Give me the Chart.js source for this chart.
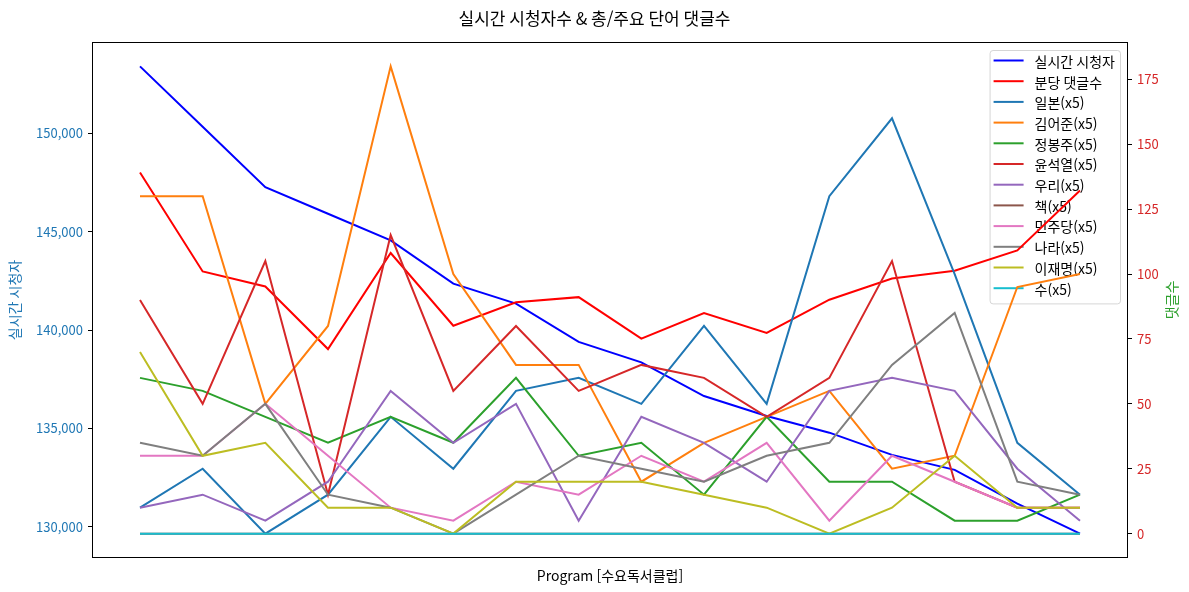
<!DOCTYPE html>
<html lang="ko">
<head>
<meta charset="utf-8">
<title>실시간 시청자수 & 총/주요 단어 댓글수</title>
<script src="https://cdn.jsdelivr.net/npm/chart.js@4.4.0/dist/chart.umd.min.js"></script>
<style>
  html, body { margin: 0; padding: 0; background: #fff; }
  canvas { display: block; }
</style>
</head>
<body>
<canvas id="viewerChart" width="1189" height="592"></canvas>
<script>
// program segments (x axis has no labels)
const segments = [0, 1, 2, 3, 4, 5, 6, 7, 8, 9, 10, 11, 12, 13, 14, 15];

// live viewers -> left axis
const liveViewers = [153400, 150330, 147260, 145910, 144560, 142360, 141350, 139400,
  138360, 136650, 135640, 134790, 133660, 132900, 131180, 129660];
// comments per minute -> right axis
const commentsPerMinute = [139.1, 101.0, 95.2, 71.1, 108.1, 80.1, 89.1, 91.1,
  75.1, 85.0, 77.3, 90.1, 98.3, 101.3, 109.1, 132.2];

// keyword counts (already x5)
const kwJapan = [10, 25, 0, 15, 45, 25, 55, 60, 50, 80, 50, 130, 160, 100, 35, 15];
const kwKimEojun = [130, 130, 50, 80, 180, 100, 65, 65, 20, 35, 45, 55, 25, 30, 95, 100];
const kwJeongBongju = [60, 55, 45, 35, 45, 35, 60, 30, 35, 15, 45, 20, 20, 5, 5, 15];
const kwYoon = [90, 50, 105, 15, 115, 55, 80, 55, 65, 60, 45, 60, 105, 20, 10, 10];
const kwWoori = [10, 15, 5, 20, 55, 35, 50, 5, 45, 35, 20, 55, 60, 55, 25, 5];
const kwBook = [0, 0, 0, 0, 0, 0, 0, 0, 0, 0, 0, 0, 0, 0, 0, 0];
const kwMinjoo = [30, 30, 50, 30, 10, 5, 20, 15, 30, 20, 35, 5, 30, 20, 10, 10];
const kwNara = [35, 30, 50, 15, 10, 0, 15, 30, 25, 20, 30, 35, 65, 85, 20, 15];
const kwLeeJaemyung = [70, 30, 35, 10, 10, 0, 20, 20, 20, 15, 10, 0, 10, 30, 10, 10];
const kwSu = [0, 0, 0, 0, 0, 0, 0, 0, 0, 0, 0, 0, 0, 0, 0, 0];

const keywordNames = ["일본", "김어준", "정봉주", "윤석열", "우리", "책", "민주당", "나라", "이재명", "수"];
const keywordSeries = [kwJapan, kwKimEojun, kwJeongBongju, kwYoon, kwWoori, kwBook, kwMinjoo, kwNara, kwLeeJaemyung, kwSu];
const keywordColors = ["#1f77b4", "#ff7f0e", "#2ca02c", "#d62728", "#9467bd",
  "#8c564b", "#e377c2", "#7f7f7f", "#bcbd22", "#17becf"];

// tick labels
const viewerTicks = [130000, 135000, 140000, 145000, 150000];
const commentTicks = [0, 25, 50, 75, 100, 125, 150, 175];

const FONT = "'Noto Sans CJK KR', 'Noto Sans', sans-serif";
Chart.defaults.font.family = FONT;
Chart.defaults.color = "#000";

// matplotlib-like 5% margins
const padRange = (arr) => {
  const lo = Math.min(...arr), hi = Math.max(...arr);
  const m = (hi - lo) * 0.05;
  return [lo - m, hi + m];
};
const [vMin, vMax] = padRange(liveViewers);
const [cMin, cMax] = padRange(commentsPerMinute.concat(...keywordSeries));
const [xMin, xMax] = padRange(segments);

const datasets = [
  { label: "실시간 시청자", data: liveViewers, borderColor: "#0000ff", yAxisID: "y" },
  { label: "분당 댓글수", data: commentsPerMinute, borderColor: "#ff0000", yAxisID: "y1" },
];
keywordNames.forEach((name, i) => {
  datasets.push({
    label: name + "(x5)",
    data: keywordSeries[i],
    borderColor: keywordColors[i],
    yAxisID: "y1",
  });
});
// first series drawn first (bottom), last on top
datasets.forEach((d, i) => {
  d.order = datasets.length - i;
  d.borderWidth = 2;
  d.pointRadius = 0;
  d.tension = 0;
  d.fill = false;
});

// legend box inside top-right of the plot
const insideLegend = {
  id: "insideLegend",
  beforeDatasetsDraw(chart) {
    const { ctx, chartArea } = chart;
    const sets = chart.data.datasets;
    ctx.save();
    ctx.font = "14px " + FONT;
    let textW = 0;
    sets.forEach((d) => { textW = Math.max(textW, ctx.measureText(d.label).width); });
    const rowH = 20.7;
    const boxW = textW + 50;
    const boxH = sets.length * rowH + 5;
    const right = chartArea.right - 7;
    const left = right - boxW;
    const top = chartArea.top + 7;
    ctx.beginPath();
    ctx.roundRect(left + 0.5, top + 0.5, boxW, boxH, 3);
    ctx.fillStyle = "rgba(255,255,255,0.8)";
    ctx.fill();
    ctx.strokeStyle = "rgba(204,204,204,0.8)";
    ctx.lineWidth = 1;
    ctx.stroke();
    sets.forEach((d, i) => {
      const y = top + 10.5 + i * rowH;
      ctx.beginPath();
      ctx.moveTo(left + 4, y);
      ctx.lineTo(left + 34, y);
      ctx.strokeStyle = d.borderColor;
      ctx.lineWidth = 2;
      ctx.stroke();
      ctx.fillStyle = "#000";
      ctx.textAlign = "left";
      ctx.textBaseline = "middle";
      ctx.fillText(d.label, left + 45, y + 1);
    });
    ctx.restore();
  },
};

// box around the plot and the right axis title (reads bottom to top)
const frameAndTitle = {
  id: "frameAndTitle",
  afterDraw(chart) {
    const { ctx, chartArea } = chart;
    ctx.save();
    ctx.strokeStyle = "#000";
    ctx.lineWidth = 1;
    ctx.strokeRect(chartArea.left - 0.5, chartArea.top - 0.5,
      chartArea.right - chartArea.left + 1, chartArea.bottom - chartArea.top + 1);
    ctx.translate(chart.width - 17, (chartArea.top + chartArea.bottom) / 2);
    ctx.rotate(-Math.PI / 2);
    ctx.font = "14px " + FONT;
    ctx.fillStyle = "#2ca02c";
    ctx.textAlign = "center";
    ctx.textBaseline = "middle";
    ctx.fillText("댓글수", 0, 0);
    ctx.restore();
  },
};

new Chart(document.getElementById("viewerChart"), {
  type: "line",
  data: { labels: segments, datasets: datasets },
  options: {
    responsive: false,
    animation: false,
    devicePixelRatio: 1,
    layout: { padding: 0 },
    plugins: {
      legend: { display: false },
      tooltip: { enabled: false },
      title: {
        display: true,
        text: "실시간 시청자수 & 총/주요 단어 댓글수",
        color: "#000",
        font: { size: 17, weight: "normal" },
        padding: { top: 8, bottom: 14.6 },
      },
    },
    scales: {
      x: {
        type: "linear",
        min: xMin,
        max: xMax,
        grid: { display: false },
        border: { display: false },
        ticks: { display: false },
        title: {
          display: true,
          text: "Program [수요독서클럽]",
          color: "#000",
          font: { size: 14 },
          padding: { top: 4, bottom: 8 },
        },
        afterFit: (s) => { s.height = 35; },
      },
      y: {
        position: "left",
        min: vMin,
        max: vMax,
        afterBuildTicks: (s) => { s.ticks = viewerTicks.map((v) => ({ value: v })); },
        ticks: {
          color: "#1f77b4",
          font: { size: 13 },
          padding: 5,
          callback: (v) => Number(v).toLocaleString("en-US"),
        },
        grid: { drawOnChartArea: false, tickLength: 5, color: "#000" },
        border: { display: false },
        title: {
          display: true,
          text: "실시간 시청자",
          color: "#1f77b4",
          font: { size: 14 },
          padding: { top: 6, bottom: 0 },
        },
        afterFit: (s) => { s.width = 93; },
      },
      y1: {
        position: "right",
        min: cMin,
        max: cMax,
        afterBuildTicks: (s) => { s.ticks = commentTicks.map((v) => ({ value: v })); },
        ticks: { color: "#d62728", font: { size: 13 }, padding: 5 },
        grid: { drawOnChartArea: false, tickLength: 5, color: "#000" },
        border: { display: false },
        afterFit: (s) => { s.width = 62; },
      },
    },
  },
  plugins: [insideLegend, frameAndTitle],
});
</script>
</body>
</html>
